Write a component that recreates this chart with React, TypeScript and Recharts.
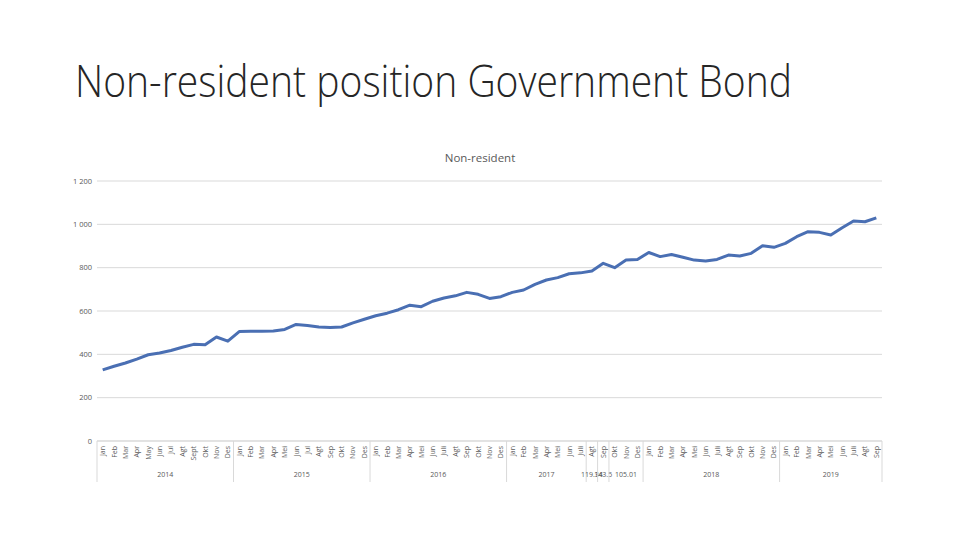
import React from 'react';
import { LineChart, Line, XAxis, YAxis, CartesianGrid } from 'recharts';

const months: string[] = [
  'Jan', 'Feb', 'Mar', 'Apr', 'May', 'Jun', 'Jul', 'Agt', 'Sept', 'Okt', 'Nov', 'Des',
  'Jan', 'Feb', 'Mar', 'Apr', 'Mei', 'Jun', 'Jul', 'Agt', 'Sep', 'Okt', 'Nov', 'Des',
  'Jan', 'Feb', 'Mar', 'Apr', 'Mei', 'Jun', 'Juli', 'Agt', 'Sep', 'Okt', 'Nov', 'Des',
  'Jan', 'Feb', 'Mar', 'Apr', 'Mei', 'Jun', 'Juli', 'Agt', 'Sep', 'Okt', 'Nov', 'Des',
  'Jan', 'Feb', 'Mar', 'Apr', 'Mei', 'Jun', 'Juli', 'Agt', 'Sep', 'Okt', 'Nov', 'Des',
  'Jan', 'Feb', 'Mar', 'Apr', 'Mei', 'Jun', 'Juli', 'Agt', 'Sep',
];

const nonResident: number[] = [
  328, 345, 360, 378, 398, 406, 418, 433, 446, 444, 480, 461,
  505, 507, 506, 508, 515, 538, 533, 526, 524, 526, 545, 562,
  578, 590, 606, 627, 620, 645, 660, 670, 686, 677, 658, 666,
  686, 697, 723, 743, 754, 772, 776, 785, 820, 800, 835, 838,
  870, 851, 861, 848, 835, 831, 838, 858, 854, 866, 901, 894,
  912, 943, 966, 963, 951, 984, 1015, 1012, 1030,
];

const groupLabels: string[] = ['2014', '2015', '2016', '2017', '119.34', '143.5', '105.01', '2018', '2019'];
const groupSizes: number[] = [12, 12, 12, 7, 1, 1, 3, 12, 9];

const yTicks: number[] = [0, 200, 400, 600, 800, 1000, 1200];

const data = months.map((m, i) => ({ idx: i, month: m, value: nonResident[i] }));

const groupStarts: number[] = [];
{
  let s = 0;
  for (const n of groupSizes) {
    groupStarts.push(s);
    s += n;
  }
}

const N = months.length;
const CHART_W = 960;
const CHART_H = 540;
const MARGIN = { top: 181, right: 78, bottom: 58, left: 0 };
const Y_AXIS_W = 97;
const PLOT_W = CHART_W - MARGIN.left - MARGIN.right - Y_AXIS_W;
const X_AXIS_H = 41;
const TEXT = '#595959';
const FONT = '"Open Sans", "Liberation Sans", sans-serif';

function fmtY(v: number): string {
  if (v >= 1000) {
    const th = Math.floor(v / 1000);
    const rest = String(v % 1000).padStart(3, '0');
    return `${th} ${rest}`;
  }
  return String(v);
}

function MonthTick(props: any) {
  const { x, y, payload, width } = props;
  const i: number = typeof payload?.value === 'number' ? payload.value : Number(payload?.value);
  const w = typeof width === 'number' && width > 0 ? width : PLOT_W;
  const step = w / N;
  const y0 = y;
  const parts: React.ReactNode[] = [];
  parts.push(
    <text
      key="m"
      transform={`translate(${x + 2.5},${y0 + 5}) rotate(-90)`}
      textAnchor="end"
      fontSize={7}
      fill={TEXT}
      fontFamily={FONT}
    >
      {months[i]}
    </text>
  );
  const g = groupStarts.indexOf(i);
  if (g >= 0) {
    const lx = x - step / 2;
    parts.push(<line key="b" x1={lx} x2={lx} y1={y0} y2={y0 + X_AXIS_H} stroke="#d9d9d9" strokeWidth={1} />);
    const cx = x + ((groupSizes[g] - 1) / 2) * step;
    parts.push(
      <text key="g" x={cx} y={y0 + 36} textAnchor="middle" fontSize={7} fill={TEXT} fontFamily={FONT}>
        {groupLabels[g]}
      </text>
    );
  }
  if (i === N - 1) {
    const rx = x + step / 2;
    parts.push(<line key="e" x1={rx} x2={rx} y1={y0} y2={y0 + X_AXIS_H} stroke="#d9d9d9" strokeWidth={1} />);
  }
  return <g>{parts}</g>;
}

export default function App() {
  return (
    <div style={{ position: 'relative', width: CHART_W, height: CHART_H, background: '#fff' }}>
      <style>{'body{margin:0}'}</style>
      <svg
        width={CHART_W}
        height={CHART_H}
        style={{ position: 'absolute', left: 0, top: 0, pointerEvents: 'none' }}
      >
        <text
          x={75}
          y={97}
          fontSize={45}
          fontWeight={300}
          fontFamily={FONT}
          fill="#262626"
          textLength={717}
          lengthAdjust="spacingAndGlyphs"
        >
          Non-resident position Government Bond
        </text>
        <text x={480} y={162} textAnchor="middle" fontSize={11.5} fontFamily={FONT} fill={TEXT}>
          Non-resident
        </text>
      </svg>
      <div style={{ position: 'absolute', left: 0, top: 0 }}>
        <LineChart width={CHART_W} height={CHART_H} data={data} margin={MARGIN}>
          <CartesianGrid horizontal vertical={false} stroke="#d9d9d9" strokeWidth={1} />
          <XAxis
            dataKey="idx"
            type="category"
            scale="band"
            interval={0}
            height={X_AXIS_H}
            tickLine={false}
            tickSize={0}
            tickMargin={0}
            axisLine={{ stroke: '#d9d9d9' }}
            tick={<MonthTick />}
          />
          <YAxis
            domain={[0, 1200]}
            ticks={yTicks}
            width={Y_AXIS_W}
            axisLine={false}
            tickLine={false}
            tickSize={3}
            tickMargin={2}
            tickFormatter={fmtY}
            tick={{ fontSize: 7.5, fill: TEXT, fontFamily: FONT }}
          />
          <Line
            type="linear"
            dataKey="value"
            stroke="#4a6fb3"
            strokeWidth={3}
            dot={false}
            isAnimationActive={false}
            strokeLinejoin="round"
          />
        </LineChart>
      </div>
    </div>
  );
}
